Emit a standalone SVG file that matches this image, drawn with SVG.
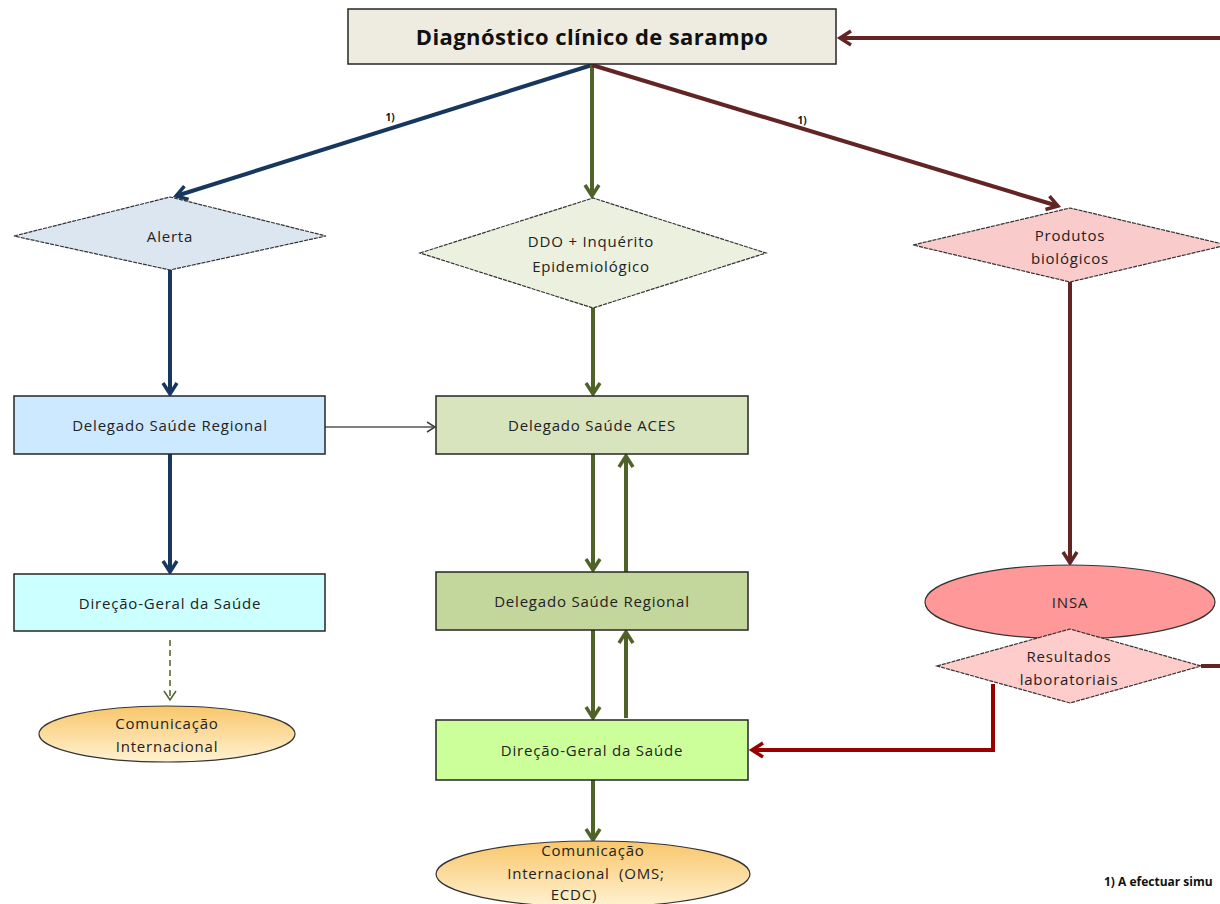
<svg xmlns="http://www.w3.org/2000/svg" width="1220" height="904" viewBox="0 0 1220 904">
<style>
  text { font-family: "Open Sans", "Liberation Sans", sans-serif; fill: #222; text-anchor: middle; }
  .t { font-size: 15px; letter-spacing: 0.8px; }
  .title { font-size: 22px; font-weight: bold; fill: #111; letter-spacing: 0.4px; }
  .note { font-size: 10px; font-weight: bold; fill: #111; }
  .foot { font-size: 12px; font-weight: bold; fill: #111; text-anchor: start; }
  .box { stroke: #262626; stroke-width: 1.5; }
  .dia { stroke: #333; stroke-width: 1.2; stroke-dasharray: 4 1; }
  .ell { stroke: #333; stroke-width: 1.2; }
  .blue { stroke: #17375E; stroke-width: 4; fill: none; }
  .green { stroke: #4F6228; stroke-width: 4; fill: none; }
  .red { stroke: #632523; stroke-width: 4; fill: none; }
  .bred { stroke: #990000; stroke-width: 4; fill: none; }
</style>
<defs>
  <marker id="mBlue" markerUnits="userSpaceOnUse" markerWidth="20" markerHeight="20" refX="13" refY="9" orient="auto">
    <path d="M2,2 L13,9 L2,16" fill="none" stroke="#17375E" stroke-width="3.5"/>
  </marker>
  <marker id="mGreen" markerUnits="userSpaceOnUse" markerWidth="20" markerHeight="20" refX="13" refY="9" orient="auto">
    <path d="M2,2 L13,9 L2,16" fill="none" stroke="#4F6228" stroke-width="3.5"/>
  </marker>
  <marker id="mRed" markerUnits="userSpaceOnUse" markerWidth="20" markerHeight="20" refX="13" refY="9" orient="auto">
    <path d="M2,2 L13,9 L2,16" fill="none" stroke="#632523" stroke-width="3.5"/>
  </marker>
  <marker id="mBred" markerUnits="userSpaceOnUse" markerWidth="20" markerHeight="20" refX="13" refY="9" orient="auto">
    <path d="M2,2 L13,9 L2,16" fill="none" stroke="#990000" stroke-width="3.5"/>
  </marker>
  <marker id="mGrey" markerUnits="userSpaceOnUse" markerWidth="14" markerHeight="14" refX="10" refY="7" orient="auto">
    <path d="M2,2 L10,7 L2,12" fill="none" stroke="#404040" stroke-width="1.5"/>
  </marker>
  <marker id="mDash" markerUnits="userSpaceOnUse" markerWidth="16" markerHeight="16" refX="11" refY="7" orient="auto">
    <path d="M2,1 L11,7 L2,13" fill="none" stroke="#4F6228" stroke-width="1.5"/>
  </marker>
  <linearGradient id="gOrange" x1="0" y1="0" x2="0" y2="1">
    <stop offset="0" stop-color="#F9C66A"/>
    <stop offset="1" stop-color="#FFF2D2"/>
  </linearGradient>
</defs>

<g id="connectors">
  <line x1="1220" y1="38" x2="840" y2="38" class="red" marker-end="url(#mRed)"/>
  <line x1="592" y1="65" x2="176" y2="196" class="blue" marker-end="url(#mBlue)"/>
  <line x1="592" y1="65" x2="592" y2="196" class="green" marker-end="url(#mGreen)"/>
  <line x1="592" y1="65" x2="1058" y2="206" class="red" marker-end="url(#mRed)"/>
  <text x="390" y="121" class="note">1)</text>
  <text x="802" y="124" class="note">1)</text>
  <line x1="170" y1="270" x2="170" y2="394" class="blue" marker-end="url(#mBlue)"/>
  <line x1="170" y1="454" x2="170" y2="572" class="blue" marker-end="url(#mBlue)"/>
  <line x1="170" y1="640" x2="170" y2="700" stroke="#4F6228" stroke-width="1.5" stroke-dasharray="6 4" marker-end="url(#mDash)"/>
  <line x1="325" y1="427" x2="435" y2="427" stroke="#7F7F7F" stroke-width="1.8" marker-end="url(#mGrey)"/>
  <line x1="593" y1="308" x2="593" y2="394" class="green" marker-end="url(#mGreen)"/>
  <line x1="593" y1="454" x2="593" y2="570" class="green" marker-end="url(#mGreen)"/>
  <line x1="626" y1="572" x2="626" y2="456" class="green" marker-end="url(#mGreen)"/>
  <line x1="593" y1="630" x2="593" y2="718" class="green" marker-end="url(#mGreen)"/>
  <line x1="626" y1="718" x2="626" y2="632" class="green" marker-end="url(#mGreen)"/>
  <line x1="593" y1="780" x2="593" y2="840" class="green" marker-end="url(#mGreen)"/>
  <line x1="1070" y1="282" x2="1070" y2="563" class="red" marker-end="url(#mRed)"/>
  <line x1="1201" y1="666" x2="1220" y2="666" class="red"/>
  <polyline points="993,684 993,750 752,750" class="bred" marker-end="url(#mBred)"/>
</g>

<g id="diagnostico">
  <rect x="348" y="9" width="488" height="55" fill="#EEECE1" class="box"/>
  <text x="592" y="45" class="title">Diagnóstico clínico de sarampo</text>
</g>

<g id="alerta">
  <polygon points="14,236 170,197 326,236 170,270" fill="#DCE6F1" class="dia"/>
  <text x="170" y="242" class="t">Alerta</text>
</g>

<g id="ddo">
  <polygon points="420,253 593,198 766,253 593,308" fill="#EBF1DE" class="dia"/>
  <text x="591" y="247" class="t">DDO + Inquérito</text>
  <text x="591" y="272" class="t">Epidemiológico</text>
</g>

<g id="produtos">
  <polygon points="913,245 1070,208 1227,245 1070,282" fill="#F9CBCB" class="dia"/>
  <text x="1070" y="241" class="t">Produtos</text>
  <text x="1070" y="264" class="t">biológicos</text>
</g>

<g id="delegado-regional-left">
  <rect x="14" y="396" width="311" height="58" fill="#CCE9FF" class="box"/>
  <text x="170" y="431" class="t">Delegado Saúde Regional</text>
</g>

<g id="dgs-left">
  <rect x="14" y="574" width="311" height="57" fill="#CCFFFF" class="box"/>
  <text x="170" y="609" class="t">Direção-Geral da Saúde</text>
</g>

<g id="comunicacao-left">
  <ellipse cx="167" cy="734" rx="128" ry="28" fill="url(#gOrange)" class="ell"/>
  <text x="167" y="729" class="t">Comunicação</text>
  <text x="167" y="752" class="t">Internacional</text>
</g>

<g id="delegado-aces">
  <rect x="436" y="396" width="312" height="58" fill="#D7E4BD" class="box"/>
  <text x="592" y="431" class="t">Delegado Saúde ACES</text>
</g>

<g id="delegado-regional-mid">
  <rect x="436" y="572" width="312" height="58" fill="#C3D69B" class="box"/>
  <text x="592" y="607" class="t">Delegado Saúde Regional</text>
</g>

<g id="dgs-mid">
  <rect x="436" y="720" width="312" height="60" fill="#CCFF99" class="box"/>
  <text x="592" y="756" class="t">Direção-Geral da Saúde</text>
</g>

<g id="comunicacao-mid">
  <ellipse cx="593" cy="874" rx="157" ry="33" fill="url(#gOrange)" class="ell"/>
  <text x="593" y="856" class="t">Comunicação</text>
  <text x="586" y="879" class="t">Internacional&#160; (OMS;</text>
  <text x="574" y="900" class="t">ECDC)</text>
</g>

<g id="insa">
  <ellipse cx="1070" cy="602" rx="145" ry="37" fill="#FF9999" class="ell"/>
  <text x="1070" y="608" class="t">INSA</text>
</g>

<g id="resultados">
  <polygon points="937,666 1070,629 1201,666 1070,703" fill="#FFCCCC" class="dia"/>
  <text x="1069" y="662" class="t">Resultados</text>
  <text x="1069" y="685" class="t">laboratoriais</text>
</g>

<text x="1104" y="886" class="foot">1) A efectuar simu</text>
</svg>
